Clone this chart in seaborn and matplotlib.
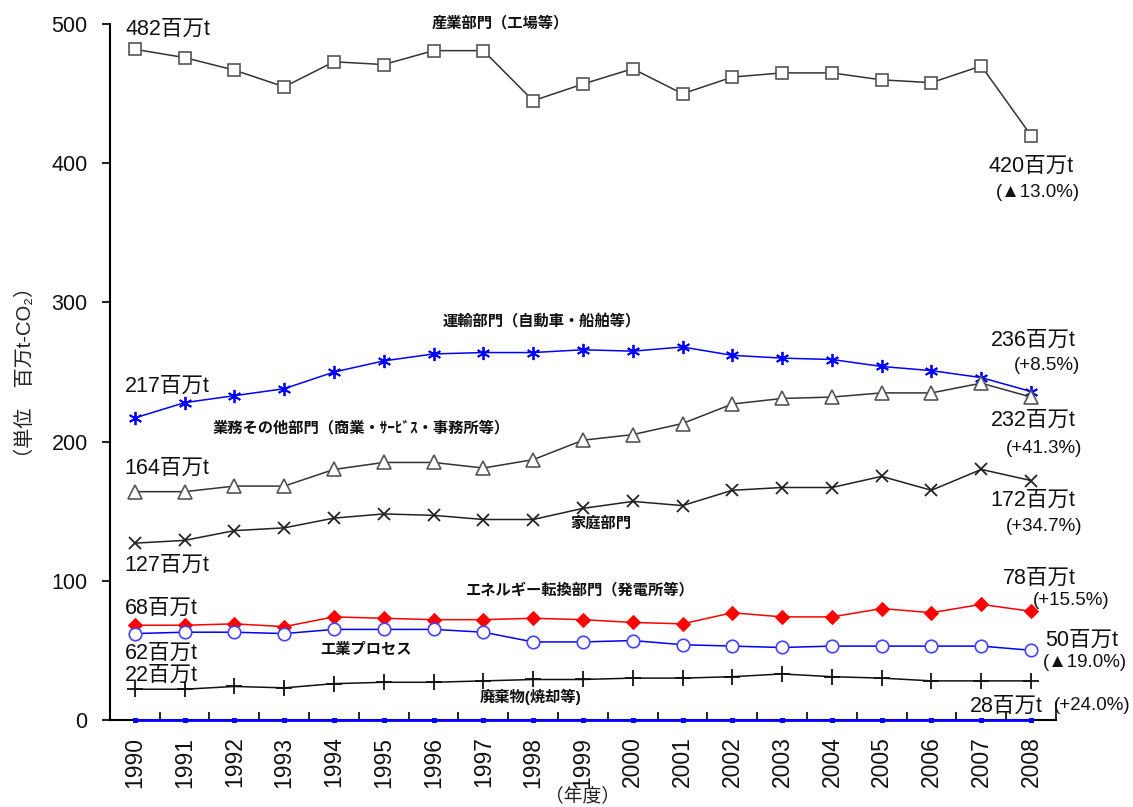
import matplotlib
matplotlib.use("Agg")
import matplotlib.pyplot as plt
import seaborn as sns
import pandas as pd

# --- data (百万t-CO2) ---
years = list(range(1990, 2009))
industry = [482, 476, 467, 455, 473, 471, 481, 481, 445, 457, 468, 450, 462, 465, 465, 460, 458, 470, 420]
transport = [217, 228, 233, 238, 250, 258, 263, 264, 264, 266, 265, 268, 262, 260, 259, 254, 251, 246, 236]
commercial = [164, 164, 168, 168, 180, 185, 185, 181, 187, 201, 205, 213, 227, 231, 232, 235, 235, 242, 232]
household = [127, 129, 136, 138, 145, 148, 147, 144, 144, 152, 157, 154, 165, 167, 167, 175, 165, 180, 172]
energy = [68, 68, 69, 67, 74, 73, 72, 72, 73, 72, 70, 69, 77, 74, 74, 80, 77, 83, 78]
process = [62, 63, 63, 62, 65, 65, 65, 63, 56, 56, 57, 54, 53, 52, 53, 53, 53, 53, 50]
waste = [22, 22, 24, 23, 26, 27, 27, 28, 29, 29, 30, 30, 31, 33, 31, 30, 28, 28, 28]
other = [0] * 19

df = pd.DataFrame({"year": years, "industry": industry, "transport": transport,
                   "commercial": commercial, "household": household, "energy": energy,
                   "process": process, "waste": waste, "other": other})

sns.set_theme(style="white")
plt.rcParams["font.family"] = ["Liberation Sans", "Noto Sans CJK JP", "DejaVu Sans"]

fig = plt.figure(figsize=(11.33, 8.07), dpi=100)
ax = fig.add_axes([0.097, 0.108, 0.835, 0.862])

styles = {
    "industry": dict(color="#333333", marker="s", markersize=9, markerfacecolor="white",
                     markeredgecolor="#555555", markeredgewidth=1.2),
    "transport": dict(color="#0000ff", marker=(6, 2, 0), markersize=9.5, markeredgewidth=1.3,
                      markeredgecolor="#0000ff"),
    "commercial": dict(color="#333333", marker="^", markersize=10, markerfacecolor="white",
                       markeredgecolor="#555555", markeredgewidth=1.2),
    "household": dict(color="#222222", marker="x", markersize=8, markeredgewidth=1.3,
                      markeredgecolor="#222222"),
    "energy": dict(color="#ff0000", marker="D", markersize=7, markerfacecolor="#ff0000",
                   markeredgecolor="#ff0000"),
    "process": dict(color="#0000ff", marker="o", markersize=9, markerfacecolor="white",
                    markeredgecolor="#4444ff", markeredgewidth=1.2),
    "waste": dict(color="#111111", marker="+", markersize=11, markeredgewidth=1.3,
                  markeredgecolor="#111111"),
    "other": dict(color="#0000ff", marker="s", markersize=3.5, markerfacecolor="#0000ff",
                  markeredgecolor="#0000ff", linewidth=2),
}
for col, st in styles.items():
    lw = st.pop("linewidth", 1.1)
    sns.lineplot(data=df, x="year", y=col, ax=ax, linewidth=lw, clip_on=False, zorder=3, **st)

ax.set_xlim(1989.5, 2008.5)
ax.set_ylim(0, 500)
ax.set_yticks([0, 100, 200, 300, 400, 500])
ax.set_xticks(years)
ax.set_xticklabels([str(y) for y in years], rotation=90)
ax.set_xticks([y + 0.5 for y in years[:-1]], minor=True)
ax.tick_params(axis="x", which="major", length=0, labelsize=16.5, pad=12, labelcolor="#111111")
ax.tick_params(axis="x", which="minor", length=6, direction="in", width=1.2, color="black", bottom=True)
ax.tick_params(axis="y", length=6, width=1.5, direction="out", left=True, labelsize=15.5,
               labelcolor="#111111", pad=10)
for s in ["top", "right"]:
    ax.spines[s].set_visible(False)
for s in ["left", "bottom"]:
    ax.spines[s].set_color("black")
    ax.spines[s].set_linewidth(1.5)
ax.grid(False)

ax.set_ylabel("（単位　百万t-CO₂）", fontsize=14.5, labelpad=12, color="#222222")
ax.set_xlabel("（年度）", fontsize=13.5, labelpad=0, color="#222222")

# --- annotations: text, x, y, size, ha, weight ---
big = 15.5
pct = 13.5
small = 11
notes = [
    ("482百万t", 1989.82, 496, big, "left", "normal"),
    ("産業部門（工場等）", 1997.34, 501, small, "center", "bold"),
    ("420百万t", 2007.15, 398, big, "left", "normal"),
    ("(▲13.0%)", 2007.29, 379, pct, "left", "normal"),
    ("運輸部門（自動車・船舶等）", 1998.18, 287, small, "center", "bold"),
    ("217百万t", 1989.8, 240, big, "left", "normal"),
    ("業務その他部門（商業・ｻｰﾋﾞｽ・事務所等）", 1991.57, 210, small, "left", "bold"),
    ("164百万t", 1989.8, 181, big, "left", "normal"),
    ("236百万t", 2007.19, 273, big, "left", "normal"),
    ("(+8.5%)", 2007.65, 255, pct, "left", "normal"),
    ("232百万t", 2007.19, 215, big, "left", "normal"),
    ("(+41.3%)", 2007.49, 195, pct, "left", "normal"),
    ("172百万t", 2007.19, 158, big, "left", "normal"),
    ("(+34.7%)", 2007.49, 139, pct, "left", "normal"),
    ("家庭部門", 1999.35, 141, small, "center", "bold"),
    ("127百万t", 1989.8, 111, big, "left", "normal"),
    ("エネルギー転換部門（発電所等）", 1998.94, 93, small, "center", "bold"),
    ("68百万t", 1989.8, 80, big, "left", "normal"),
    ("78百万t", 2007.43, 102, big, "left", "normal"),
    ("(+15.5%)", 2008.03, 85.5, pct, "left", "normal"),
    ("50百万t", 2008.29, 57, big, "left", "normal"),
    ("(▲19.0%)", 2008.23, 41, pct, "left", "normal"),
    ("62百万t", 1989.8, 48, big, "left", "normal"),
    ("工業プロセス", 1994.64, 50, small, "center", "bold"),
    ("22百万t", 1989.8, 32, big, "left", "normal"),
    ("廃棄物(焼却等)", 1997.94, 16.5, small, "center", "bold"),
    ("28百万t", 2006.78, 10, big, "left", "normal"),
    ("(+24.0%)", 2008.45, 10, pct, "left", "normal"),
]
for txt, x, y, size, ha, wt in notes:
    ax.text(x, y, txt, fontsize=size, ha=ha, va="center", color="#111111", zorder=5,
            clip_on=False, fontweight=wt)

# leader line for the waste label
ax.plot([2008.5, 2008.5], [0, 13], color="black", linewidth=1.2, clip_on=False)

fig.savefig("out.png", dpi=100)
